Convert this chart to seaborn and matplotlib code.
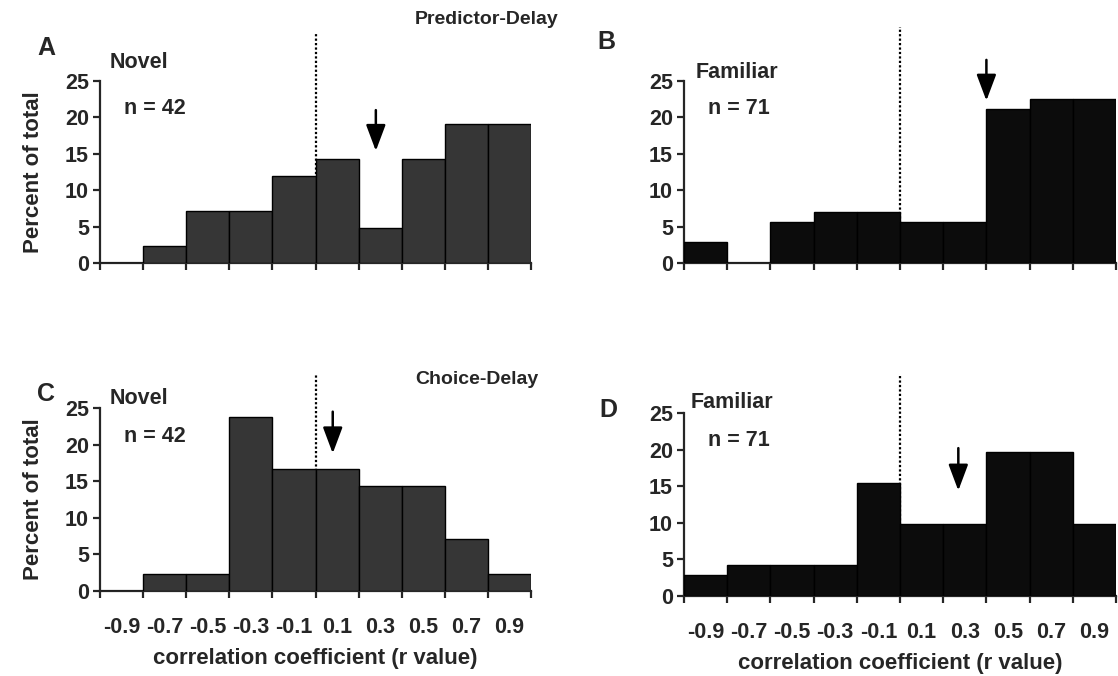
""" Distribution of correlation coefficients, novel vs familiar """

import numpy as np
import matplotlib
matplotlib.use("Agg")
import matplotlib.pyplot as plt
import seaborn as sns

# bins of r value (width 0.2) and the labels under the bottom panels
bin_edges = [-1.0, -0.8, -0.6, -0.4, -0.2, 0.0, 0.2, 0.4, 0.6, 0.8, 1.0]
bin_centers = [-0.9, -0.7, -0.5, -0.3, -0.1, 0.1, 0.3, 0.5, 0.7, 0.9]
tick_labels = ["-0.9", "-0.7", "-0.5", "-0.3", "-0.1", "0.1", "0.3", "0.5", "0.7", "0.9"]

# cell counts per bin
novel_predictor = [0, 1, 3, 3, 5, 6, 2, 6, 8, 8]
familiar_predictor = [2, 0, 4, 5, 5, 4, 4, 15, 16, 16]
novel_choice = [0, 1, 1, 10, 7, 7, 6, 6, 3, 1]
familiar_choice = [2, 3, 3, 3, 11, 7, 7, 14, 14, 7]
n_novel = 42
n_familiar = 71

# mean r value marked with an arrow (A, B, C, D)
mean_r = [0.28, 0.40, 0.08, 0.27]

W, H = 1118, 676


def fx(px):
    return px / W


def fy(py):
    return 1 - py / H


def draw_panel(ax, counts, n, color, arrow_x, arrow_y, line_top, bottom_row):
    """ One histogram panel """
    pct = np.array(counts) / n * 100
    sns.histplot(x=bin_centers, weights=pct, bins=bin_edges, ax=ax,
                 color=color, edgecolor="black", linewidth=1, alpha=1,
                 zorder=3)
    ax.plot([0, 0], [0, line_top], ls=(0, (1, 1)), lw=1.6, color="black",
            clip_on=False, zorder=1)
    ax.annotate("", xy=(arrow_x, arrow_y[1]), xytext=(arrow_x, arrow_y[0]),
                arrowprops=dict(arrowstyle="-|>,head_length=0.8,head_width=0.3",
                                mutation_scale=20, lw=1.8, color="black",
                                shrinkA=0, shrinkB=0),
                annotation_clip=False, zorder=5)
    ax.set_xlim(-1, 1)
    ax.set_ylim(0, 25)
    ax.set_yticks([0, 5, 10, 15, 20, 25])
    ax.set_xticks(bin_edges)
    ax.set_xticklabels([])
    ax.set_xticks(bin_centers, minor=True)
    if bottom_row:
        ax.set_xticklabels(tick_labels, minor=True)
    else:
        ax.set_xticklabels([], minor=True)
    ax.tick_params(axis="x", which="major", length=5, width=1.6, direction="out")
    ax.tick_params(axis="x", which="minor", length=0, pad=19, labelsize=15.5)
    ax.tick_params(axis="y", length=5, width=1.6, direction="out", labelsize=15.5, pad=3)
    for lab in ax.get_xticklabels(minor=True) + ax.get_yticklabels():
        lab.set_fontweight("bold")
    ax.set_ylabel("")
    ax.set_xlabel("")
    for side in ["left", "bottom"]:
        ax.spines[side].set_linewidth(1.6)
    sns.despine(ax=ax)


def main():
    """ Main Function """
    sns.set_style("ticks")
    plt.rcParams["font.family"] = ["Liberation Sans", "DejaVu Sans"]
    plt.rcParams["font.weight"] = "bold"

    fig = plt.figure(figsize=(W / 100, H / 100), dpi=100)
    ax_a = fig.add_axes([fx(100), fy(263), fx(431), 182 / H])
    ax_b = fig.add_axes([fx(684), fy(263), fx(432), 182 / H])
    ax_c = fig.add_axes([fx(100), fy(591), fx(431), 183 / H])
    ax_d = fig.add_axes([fx(684), fy(596), fx(432), 183 / H])

    gray = "#363636"
    black = "#0c0c0c"
    draw_panel(ax_a, novel_predictor, n_novel, gray, mean_r[0], (21.0, 15.4), 31.7, False)
    draw_panel(ax_b, familiar_predictor, n_familiar, black, mean_r[1], (27.9, 22.3), 32.4, False)
    draw_panel(ax_c, novel_choice, n_novel, gray, mean_r[2], (24.5, 18.8), 29.5, True)
    draw_panel(ax_d, familiar_choice, n_familiar, black, mean_r[3], (20.2, 14.4), 30.2, True)

    for ax in (ax_a, ax_c):
        ax.set_ylabel("Percent of total", fontsize=16, fontweight="bold", labelpad=15)
    for ax in (ax_c, ax_d):
        ax.set_xlabel("correlation coefficient (r value)", fontsize=16,
                      fontweight="bold", labelpad=7)

    bold = dict(fontweight="bold", va="center")
    fig.text(fx(37), fy(48), "A", fontsize=18, **bold)
    fig.text(fx(597), fy(42), "B", fontsize=18, **bold)
    fig.text(fx(37), fy(394), "C", fontsize=18, **bold)
    fig.text(fx(599), fy(410), "D", fontsize=18, **bold)
    fig.text(fx(487), fy(20), "Predictor-Delay", fontsize=14, ha="center", **bold)
    fig.text(fx(477), fy(380), "Choice-Delay", fontsize=14, ha="center", **bold)

    fig.text(fx(110), fy(62), "Novel", fontsize=15.5, **bold)
    fig.text(fx(124), fy(108), "n = 42", fontsize=15.5, **bold)
    fig.text(fx(696), fy(72), "Familiar", fontsize=15.5, **bold)
    fig.text(fx(708), fy(108), "n = 71", fontsize=15.5, **bold)
    fig.text(fx(110), fy(398), "Novel", fontsize=15.5, **bold)
    fig.text(fx(124), fy(437), "n = 42", fontsize=15.5, **bold)
    fig.text(fx(691), fy(403), "Familiar", fontsize=15.5, **bold)
    fig.text(fx(708), fy(440), "n = 71", fontsize=15.5, **bold)

    fig.savefig("out.png", dpi=100)


if __name__ == "__main__":
    main()
